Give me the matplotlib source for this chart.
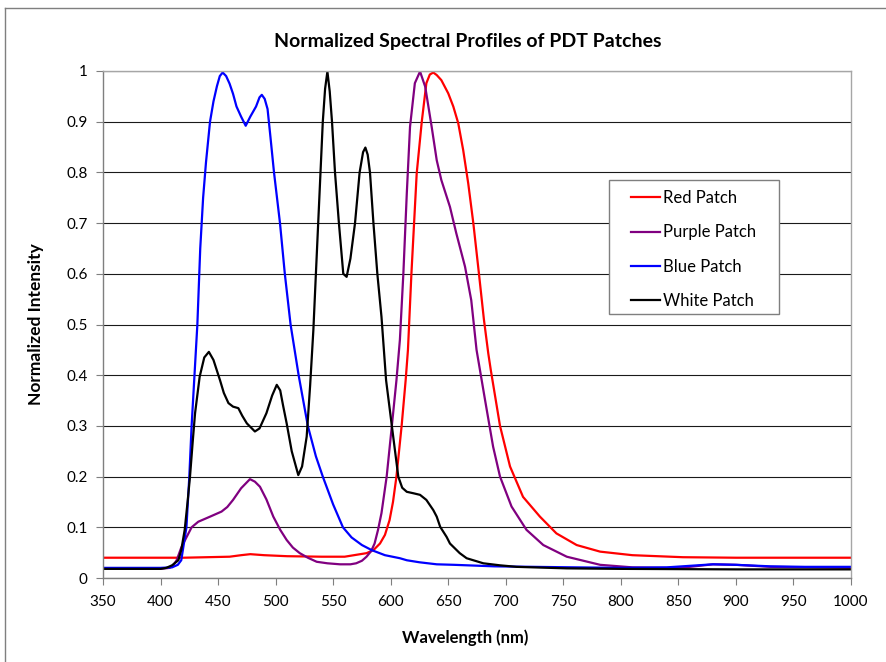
import matplotlib
matplotlib.use("Agg")
import matplotlib.pyplot as plt
from matplotlib.lines import Line2D
from matplotlib.patches import Rectangle

plt.rcParams['font.family'] = ['Lato', 'DejaVu Sans']

# ---- data ----
red_nm = [350, 420, 440, 460, 470, 478, 490, 510, 540, 560, 579, 585, 590.7, 595, 599, 602, 605, 609.5, 613,
          615, 618, 622.6, 627, 631, 634, 637, 640, 644, 650, 654.4, 658.7, 663, 667.4, 671.8, 676.7, 681,
          684.8, 687, 695, 703.7, 715, 729.7, 744, 761.6, 782, 810, 854, 900, 1000]
red_val = [0.04, 0.04, 0.041, 0.042, 0.045, 0.047, 0.045, 0.043, 0.042, 0.042, 0.049, 0.055, 0.068, 0.085,
           0.114, 0.15, 0.2, 0.3, 0.39, 0.45, 0.6, 0.798, 0.9, 0.976, 0.993, 0.997, 0.992, 0.982, 0.956, 0.93,
           0.897, 0.844, 0.778, 0.7, 0.6, 0.51, 0.443, 0.41, 0.3, 0.22, 0.16, 0.121, 0.088, 0.065, 0.052,
           0.045, 0.041, 0.04, 0.04]

purple_nm = [350, 400, 408, 411, 414, 418, 422.7, 427, 432.8, 443, 453, 458, 463, 470, 477.7, 482, 486.4, 492,
             498, 504, 509.6, 515, 521, 528, 535.7, 545, 556, 565, 570, 575, 579, 583, 586, 589, 592, 596.5,
             601, 605, 608, 611, 614, 616.8, 621, 625.5, 630, 635.6, 640, 644, 651.5, 657, 664.6, 670, 674.6,
             682, 689, 695, 705, 718, 732.6, 753, 782, 810, 840, 860, 880, 900, 930, 1000]
purple_val = [0.018, 0.018, 0.02, 0.025, 0.035, 0.06, 0.081, 0.1, 0.111, 0.121, 0.131, 0.14, 0.154, 0.177,
              0.195, 0.19, 0.18, 0.155, 0.121, 0.095, 0.075, 0.06, 0.049, 0.04, 0.032, 0.029, 0.027, 0.027,
              0.029, 0.034, 0.042, 0.053, 0.068, 0.095, 0.128, 0.2, 0.3, 0.39, 0.47, 0.6, 0.759, 0.89, 0.976,
              0.999, 0.969, 0.89, 0.824, 0.785, 0.732, 0.68, 0.614, 0.548, 0.45, 0.351, 0.259, 0.2, 0.141,
              0.095, 0.065, 0.042, 0.026, 0.021, 0.02, 0.022, 0.027, 0.026, 0.022, 0.02]

blue_nm = [350, 400, 410, 415, 418, 422.5, 425, 427, 429.5, 432, 434.5, 437, 439.5, 443, 446, 449, 451.5, 454,
           457, 460, 463, 466, 470, 474, 478, 483, 486, 488, 490.5, 493, 495.5, 498.6, 503.8, 508, 513, 520,
           528, 535, 541, 550, 558.5, 566, 575, 583.5, 595, 608, 614, 625, 640, 655, 690, 724, 760, 800, 840,
           860, 880, 900, 930, 960, 1000]
blue_val = [0.02, 0.02, 0.021, 0.026, 0.035, 0.1, 0.2, 0.3, 0.4, 0.5, 0.65, 0.75, 0.82, 0.9, 0.94, 0.97, 0.99,
            0.997, 0.99, 0.975, 0.955, 0.93, 0.91, 0.892, 0.91, 0.93, 0.948, 0.953, 0.945, 0.925, 0.87, 0.8,
            0.7, 0.6, 0.5, 0.4, 0.3, 0.24, 0.2, 0.145, 0.1, 0.08, 0.065, 0.055, 0.045, 0.039, 0.035, 0.031,
            0.027, 0.026, 0.023, 0.022, 0.021, 0.02, 0.021, 0.024, 0.027, 0.026, 0.023, 0.022, 0.022]

white_nm = [350, 400, 405, 410, 415.5, 418, 421, 423.5, 425.6, 428, 430, 434, 438, 442, 446, 451.7, 455, 459,
            463, 467.6, 471, 475, 482, 486, 492, 497, 501, 504, 506.5, 509.6, 514, 519.7, 523, 527, 530,
            532.8, 535, 537, 539, 541, 543, 545, 547, 549, 551.6, 555, 558.8, 561.7, 565, 569, 573, 576, 578,
            580, 582, 585, 588.4, 592, 596, 601, 606.6, 610, 614, 620, 625.5, 631, 637, 640, 643, 648.6,
            651.5, 660, 666, 680.5, 695, 709.5, 753, 800, 900, 1000]
white_val = [0.018, 0.018, 0.02, 0.025, 0.035, 0.055, 0.095, 0.15, 0.2, 0.27, 0.325, 0.397, 0.435, 0.446,
             0.43, 0.39, 0.365, 0.345, 0.338, 0.335, 0.32, 0.305, 0.289, 0.295, 0.325, 0.36, 0.381, 0.37, 0.34,
             0.305, 0.25, 0.203, 0.22, 0.279, 0.38, 0.489, 0.6, 0.7, 0.8, 0.9, 0.965, 0.999, 0.96, 0.9, 0.8,
             0.7, 0.6, 0.594, 0.63, 0.7, 0.8, 0.84, 0.849, 0.835, 0.8, 0.7, 0.6, 0.515, 0.39, 0.3, 0.2, 0.178,
             0.17, 0.167, 0.164, 0.154, 0.134, 0.121, 0.101, 0.081, 0.068, 0.049, 0.039, 0.029, 0.025, 0.022,
             0.019, 0.018, 0.017, 0.017]

series_names = ["Red Patch", "Purple Patch", "Blue Patch", "White Patch"]
series_colors = ["#ff0000", "#800080", "#0000ff", "#000000"]

x_ticks = list(range(350, 1001, 50))
y_ticks = [0, 0.1, 0.2, 0.3, 0.4, 0.5, 0.6, 0.7, 0.8, 0.9, 1]
y_tick_labels = ["0", "0.1", "0.2", "0.3", "0.4", "0.5", "0.6", "0.7", "0.8", "0.9", "1"]

# ---- figure ----
W, H = 886, 662
fig = plt.figure(figsize=(W / 100, H / 100), dpi=100)
ax = fig.add_axes([103 / W, 1 - 578 / H, (851 - 103) / W, (578 - 71) / H])

data = [(red_nm, red_val), (purple_nm, purple_val), (blue_nm, blue_val), (white_nm, white_val)]
for (xs, ys), name, col in zip(data, series_names, series_colors):
    ax.plot(xs, ys, color=col, lw=1.6, label=name, solid_joinstyle='round')

ax.set_xlim(350, 1000)
ax.set_ylim(0, 1)
ax.set_xticks(x_ticks)
ax.set_xticklabels([str(v) for v in x_ticks])
ax.set_yticks(y_ticks)
ax.set_yticklabels(y_tick_labels)
ax.tick_params(axis='both', direction='out', length=5, width=0.8, color='#7f7f7f',
               labelsize=11, labelcolor='black')
ax.tick_params(axis='x', pad=7)
ax.tick_params(axis='y', pad=6)

ax.yaxis.grid(True, color='#1a1a1a', lw=0.8)
ax.set_axisbelow(True)
for s in ['left', 'bottom']:
    ax.spines[s].set_color('#7f7f7f')
    ax.spines[s].set_linewidth(1.0)
for s in ['right', 'top']:
    ax.spines[s].set_color('#a6a6a6')
    ax.spines[s].set_linewidth(1.0)

fig.text(468 / W, 1 - 42 / H, "Normalized Spectral Profiles of PDT Patches", fontsize=14,
         fontweight='bold', ha='center', va='center')
fig.text(465 / W, 1 - 638 / H, "Wavelength (nm)", fontsize=12, fontweight='bold',
         ha='center', va='center')
ax.set_ylabel("Normalized Intensity", fontsize=12.5, fontweight='bold', labelpad=16)

# legend frame drawn separately, legend entries placed inside
ax.add_patch(Rectangle(((609 - 103) / 748, (578 - 314) / 507), 170 / 748, 134 / 507,
                       transform=ax.transAxes, facecolor='white', edgecolor='#7f7f7f', lw=1.0,
                       zorder=4, clip_on=False))
leg = ax.legend(loc='upper left', bbox_to_anchor=((631 - 103) / 748, (578 - 190) / 507),
                fontsize=12, frameon=False, handlelength=1.75, handletextpad=0.15,
                labelspacing=1.1, borderpad=0, borderaxespad=0)
leg.set_zorder(5)

# outer chart frame (left and top edges visible)
fig.add_artist(Line2D([5 / W, 5 / W], [0, 1 - 8 / H], transform=fig.transFigure, color='#7f7f7f', lw=1.0))
fig.add_artist(Line2D([5 / W, 1], [1 - 8 / H, 1 - 8 / H], transform=fig.transFigure, color='#7f7f7f', lw=1.0))

fig.savefig("out.png", dpi=100)
